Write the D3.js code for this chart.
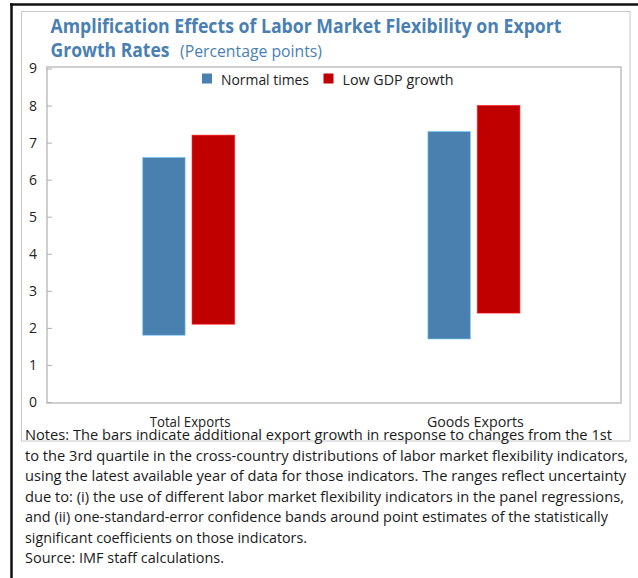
<!DOCTYPE html>
<html>
<head>
<meta charset="utf-8">
<script src="https://cdn.jsdelivr.net/npm/d3@7"></script>
<style>
  html, body { margin: 0; padding: 0; background: #fff; }
  svg { display: block; font-family: "Open Sans", "Noto Sans", sans-serif; }
</style>
</head>
<body>
<div id="chart"></div>
<script>
// chart data
const categories = ["Total Exports", "Goods Exports"];
const series = ["Normal times", "Low GDP growth"];
const seriesColors = ["#4a80b0", "#c00000"];
const normalLow = [1.8, 1.7];
const normalHigh = [6.6, 7.3];
const lowGdpLow = [2.1, 2.4];
const lowGdpHigh = [7.2, 8.0];
const yTicks = [0, 1, 2, 3, 4, 5, 6, 7, 8, 9];

const titleLines = ["Amplification Effects of Labor Market Flexibility on Export", "Growth Rates"];
const subtitle = "(Percentage points)";
const noteLines = [
  "Notes: The bars indicate additional export growth in response to changes from the 1st",
  "to the 3rd quartile in the cross-country distributions of labor market flexibility indicators,",
  "using the latest available year of data for those indicators. The ranges reflect uncertainty",
  "due to: (i) the use of different labor market flexibility indicators in the panel regressions,",
  "and (ii) one-standard-error confidence bands around point estimates of the statistically",
  "significant coefficients on those indicators.",
  "Source: IMF staff calculations."
];
const noteWidths = [587, 603, 601, 599, 583, 282, 199];

const render = () => {
  const width = 638, height = 578;
  const plot = { left: 47, right: 621, top: 67, bottom: 403 };

  const svg = d3.select("#chart").append("svg")
    .attr("width", width)
    .attr("height", height);

  // squeeze a text to a given length
  const fit = (sel, len) => sel.attr("textLength", len).attr("lengthAdjust", "spacingAndGlyphs");

  // outer frame
  svg.append("rect")
    .attr("x", 21.5).attr("y", 11.5)
    .attr("width", 608.5).attr("height", 429.5)
    .attr("fill", "none").attr("stroke", "#c8c8c8").attr("stroke-width", 1);
  svg.append("line")
    .attr("x1", 10).attr("x2", width).attr("y1", 4.5).attr("y2", 4.5)
    .attr("stroke", "#111").attr("stroke-width", 2.5);
  svg.append("line")
    .attr("x1", 11.5).attr("x2", 11.5).attr("y1", 3.3).attr("y2", height)
    .attr("stroke", "#111").attr("stroke-width", 2.5);

  // title
  const titleColor = "#4a7fb3";
  svg.append("text")
    .attr("x", 50.5).attr("y", 33)
    .attr("fill", titleColor).attr("font-weight", "bold").attr("font-size", 19)
    .text(titleLines[0])
    .call(fit, 511);
  svg.append("text")
    .attr("x", 50.5).attr("y", 56.5)
    .attr("fill", titleColor).attr("font-weight", "bold").attr("font-size", 19)
    .text(titleLines[1])
    .call(fit, 119);
  svg.append("text")
    .attr("x", 180).attr("y", 56.5)
    .attr("fill", titleColor).attr("font-size", 15.5)
    .text(subtitle)
    .call(fit, 142);

  // scales
  const y = d3.scaleLinear()
    .domain([0, 9])
    .range([402, 68.5]);

  const x0 = d3.scaleBand()
    .domain(categories)
    .range([47.5, 618])
    .padding(0);

  const groupW = 92;
  const x1 = d3.scaleBand()
    .domain(series)
    .range([0, groupW])
    .paddingInner(0.14);

  // plot frame
  svg.append("rect")
    .attr("x", plot.left).attr("y", plot.top)
    .attr("width", plot.right - plot.left).attr("height", plot.bottom - plot.top)
    .attr("fill", "none").attr("stroke", "#c4c4c4").attr("stroke-width", 1.6);

  // y axis
  const yAxis = d3.axisRight(y)
    .tickValues(yTicks)
    .tickSize(5)
    .tickFormat(d3.format("d"));
  const gy = svg.append("g")
    .attr("transform", `translate(${plot.left},0)`)
    .call(yAxis);
  gy.select(".domain").remove();
  gy.selectAll(".tick line").attr("stroke", "#b0b0b0");
  gy.selectAll(".tick text")
    .attr("x", -10)
    .attr("text-anchor", "end")
    .attr("fill", "#222")
    .attr("font-size", 14)
    .attr("font-family", "'Open Sans', sans-serif");

  // x axis labels
  const xAxis = d3.axisBottom(x0).tickSize(0);
  const gx = svg.append("g")
    .attr("transform", `translate(0,${plot.bottom})`)
    .call(xAxis);
  gx.select(".domain").remove();
  gx.selectAll(".tick text")
    .attr("y", 24)
    .attr("dy", 0)
    .attr("fill", "#222")
    .attr("font-size", 14)
    .attr("font-family", "'Open Sans', sans-serif")
    .each(function (d) {
      d3.select(this).call(fit, d === "Total Exports" ? 81 : 97);
    });

  // floating bars
  const rows = categories.map((c, i) => ({
    category: c,
    values: [
      { key: series[0], lo: normalLow[i], hi: normalHigh[i] },
      { key: series[1], lo: lowGdpLow[i], hi: lowGdpHigh[i] }
    ]
  }));
  const color = d3.scaleOrdinal().domain(series).range(seriesColors);

  svg.append("g")
    .selectAll("g")
    .data(rows)
    .enter()
    .append("g")
    .attr("transform", d => `translate(${x0(d.category) + x0.bandwidth() / 2 - groupW / 2 - 1.5},0)`)
    .selectAll("rect")
    .data(d => d.values)
    .enter()
    .append("rect")
    .attr("x", d => x1(d.key))
    .attr("y", d => y(d.hi))
    .attr("width", x1.bandwidth())
    .attr("height", d => y(d.lo) - y(d.hi))
    .attr("fill", d => color(d.key))
    .attr("stroke", d => d3.color(color(d.key)).brighter(1.3))
    .attr("stroke-opacity", 0.6)
    .attr("stroke-width", 1);

  // legend
  const legendX = [202, 323.5];
  const legendW = [88, 111];
  const legend = svg.append("g")
    .selectAll("g")
    .data(series)
    .enter()
    .append("g")
    .attr("transform", (d, i) => `translate(${legendX[i]},73.5)`);
  legend.append("rect")
    .attr("width", 10).attr("height", 10)
    .attr("fill", d => color(d));
  legend.append("text")
    .attr("x", 19).attr("y", 11)
    .attr("fill", "#222")
    .attr("font-size", 14.5)
    .text(d => d)
    .each(function (d, i) {
      d3.select(this).call(fit, legendW[i]);
    });

  // notes
  svg.append("g")
    .selectAll("text")
    .data(noteLines)
    .enter()
    .append("text")
    .attr("x", 25)
    .attr("y", (d, i) => 440 + i * 20.5)
    .attr("fill", "#1a1a1a")
    .attr("font-size", 14.5)
    .text(d => d)
    .each(function (d, i) {
      d3.select(this).call(fit, noteWidths[i]);
    });
};

document.addEventListener("DOMContentLoaded", render);
</script>
</body>
</html>
